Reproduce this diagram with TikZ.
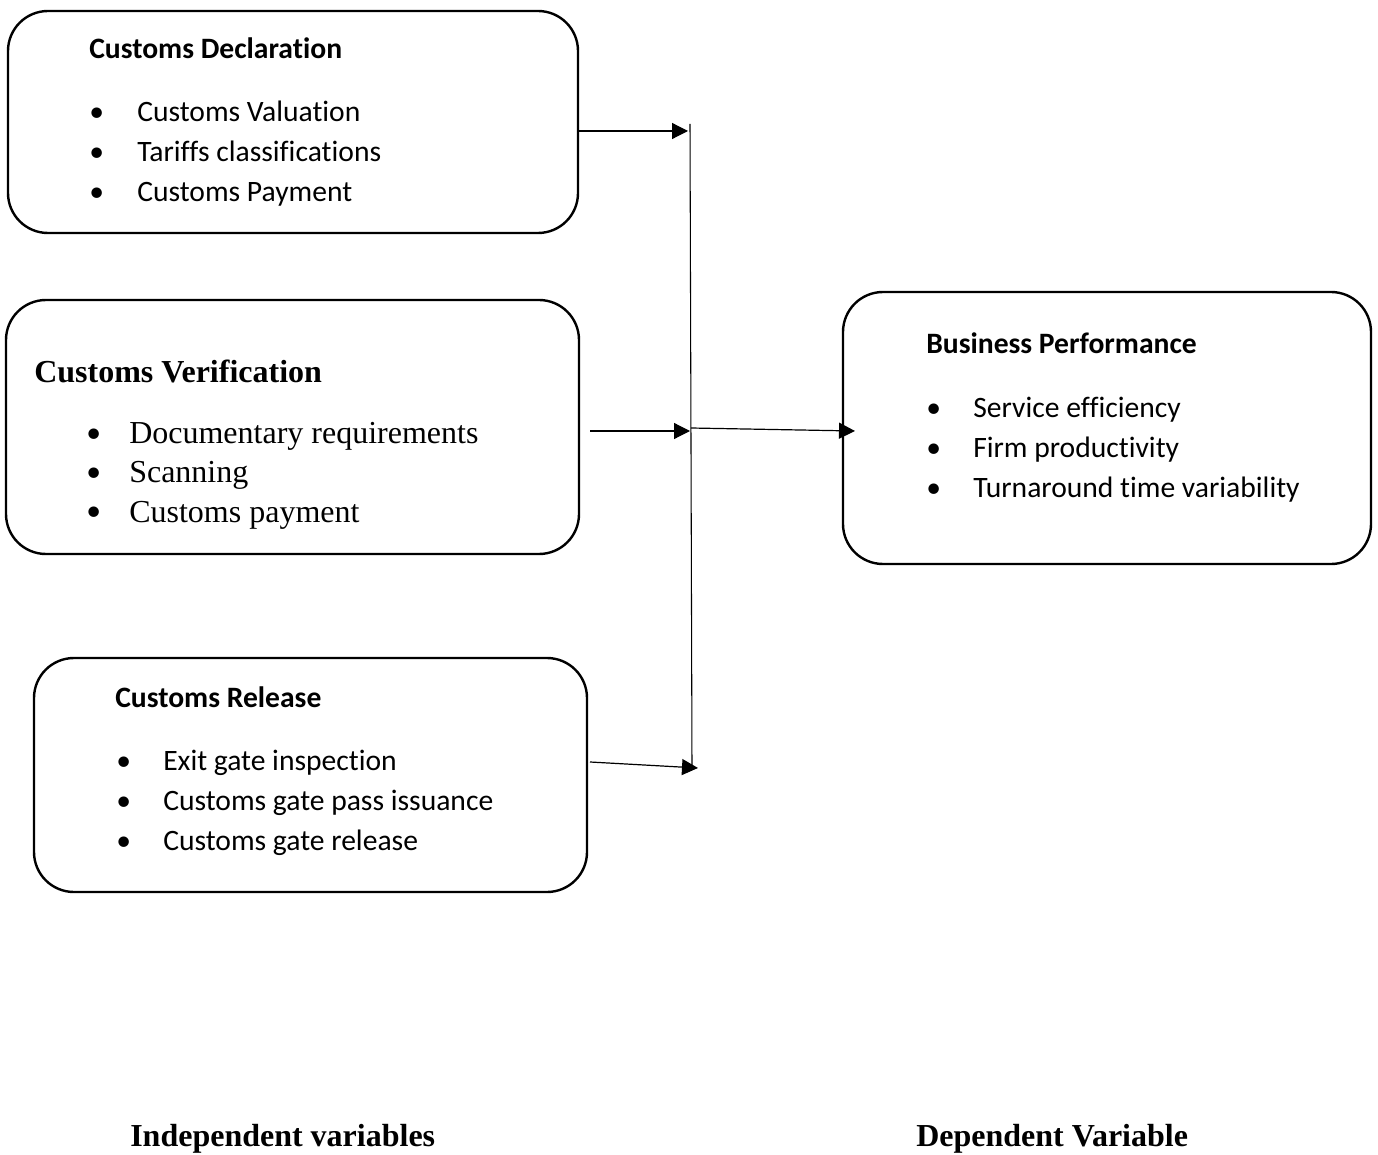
\documentclass[tikz,border=0pt]{standalone}
\usepackage{fontspec}
\setmainfont{Liberation Serif}
\newfontfamily\calibri[RawFeature={-liga;-clig;-calt;-dlig}]{Carlito}
\usetikzlibrary{arrows.meta,fit}

\tikzset{
  box/.style={draw, line width=1.8pt, rounded corners=30pt, inner sep=0pt},
  arr/.style={line width=0.9pt, -{Triangle[length=12pt,width=12pt]}},
  cal/.style={anchor=base west, inner sep=0pt, font=\calibri\fontsize{22.2}{26}\selectfont},
  calb/.style={anchor=base west, inner sep=0pt, font=\calibri\bfseries\fontsize{22.2}{26}\selectfont},
  tms/.style={anchor=base west, inner sep=0pt, font=\fontsize{24}{28}\selectfont},
  tmsb/.style={anchor=base west, inner sep=0pt, font=\bfseries\fontsize{24}{28}\selectfont},
}

\begin{document}
\begin{tikzpicture}[x=0.75pt,y=0.75pt,yscale=-1]
\useasboundingbox (0,0) rectangle (1378,1155);

%Box: declaration
\node[box, fit={(8,11) (578,233)}] (decl) {};
% Text Node
\draw (89,59) node[calb] (decltitle) {Customs Declaration};
\draw (89,122) node[cal] (declb1) {\textbullet};
\draw (137,122) node[cal] (decl1) {Customs Valuation};
\draw (89,162) node[cal] (declb2) {\textbullet};
\draw (137,162) node[cal] (decl2) {Tariffs classifications};
\draw (89,202) node[cal] (declb3) {\textbullet};
\draw (137,202) node[cal] (decl3) {Customs Payment};

%Box: verification
\node[box, fit={(6,300) (579,554)}] (verif) {};
% Text Node
\draw (34,383) node[tmsb] (veriftitle) {Customs Verification};
\draw (86,442) node[cal] (verifb1) {\textbullet};
\draw (129,444) node[tms] (verif1) {Documentary requirements};
\draw (86,481) node[cal] (verifb2) {\textbullet};
\draw (129,483) node[tms] (verif2) {Scanning};
\draw (86,520) node[cal] (verifb3) {\textbullet};
\draw (129,522) node[tms] (verif3) {Customs payment};

%Box: release
\node[box, fit={(34,658) (587,892)}] (rel) {};
% Text Node
\draw (115,707) node[calb] (reltitle) {Customs Release};
\draw (116,770) node[cal] (relb1) {\textbullet};
\draw (163,770) node[cal] (rel1) {Exit gate inspection};
\draw (116,810) node[cal] (relb2) {\textbullet};
\draw (163,810) node[cal] (rel2) {Customs gate pass issuance};
\draw (116,850) node[cal] (relb3) {\textbullet};
\draw (163,850) node[cal] (rel3) {Customs gate release};

%Box: performance
\node[box, fit={(843,292) (1371,564)}] (perf) {};
% Text Node
\draw (926,354) node[calb] (perftitle) {Business Performance};
\draw (926,417) node[cal] (perfb1) {\textbullet};
\draw (973,417) node[cal] (perf1) {Service efficiency};
\draw (926,457) node[cal] (perfb2) {\textbullet};
\draw (973,457) node[cal] (perf2) {Firm productivity};
\draw (926,498) node[cal] (perfb3) {\textbullet};
\draw (973,498) node[cal] (perf3) {Turnaround time variability};

%Spine and arrows
\coordinate (sp1) at (690,124);
\coordinate (sp2) at (692,768);
\draw[line width=0.8pt] (sp1) -- (sp2);
\coordinate (t1) at (688,131);
\coordinate (f2) at (590,431);
\coordinate (t2) at (690,431);
\coordinate (f3) at (590,762);
\coordinate (t3) at (698,768);
\coordinate (m) at (691,428);
\coordinate (t4) at (855,431);
\draw[arr] (decl.east |- t1) -- (t1);
\draw[arr] (f2) -- (t2);
\draw[arr] (f3) -- (t3);
\draw[arr] (m) -- (t4);

%Labels
\draw (130,1146) node[tmsb] (indep) {Independent variables};
\draw (916,1146) node[tmsb] (dep) {Dependent Variable};
\end{tikzpicture}
\end{document}
